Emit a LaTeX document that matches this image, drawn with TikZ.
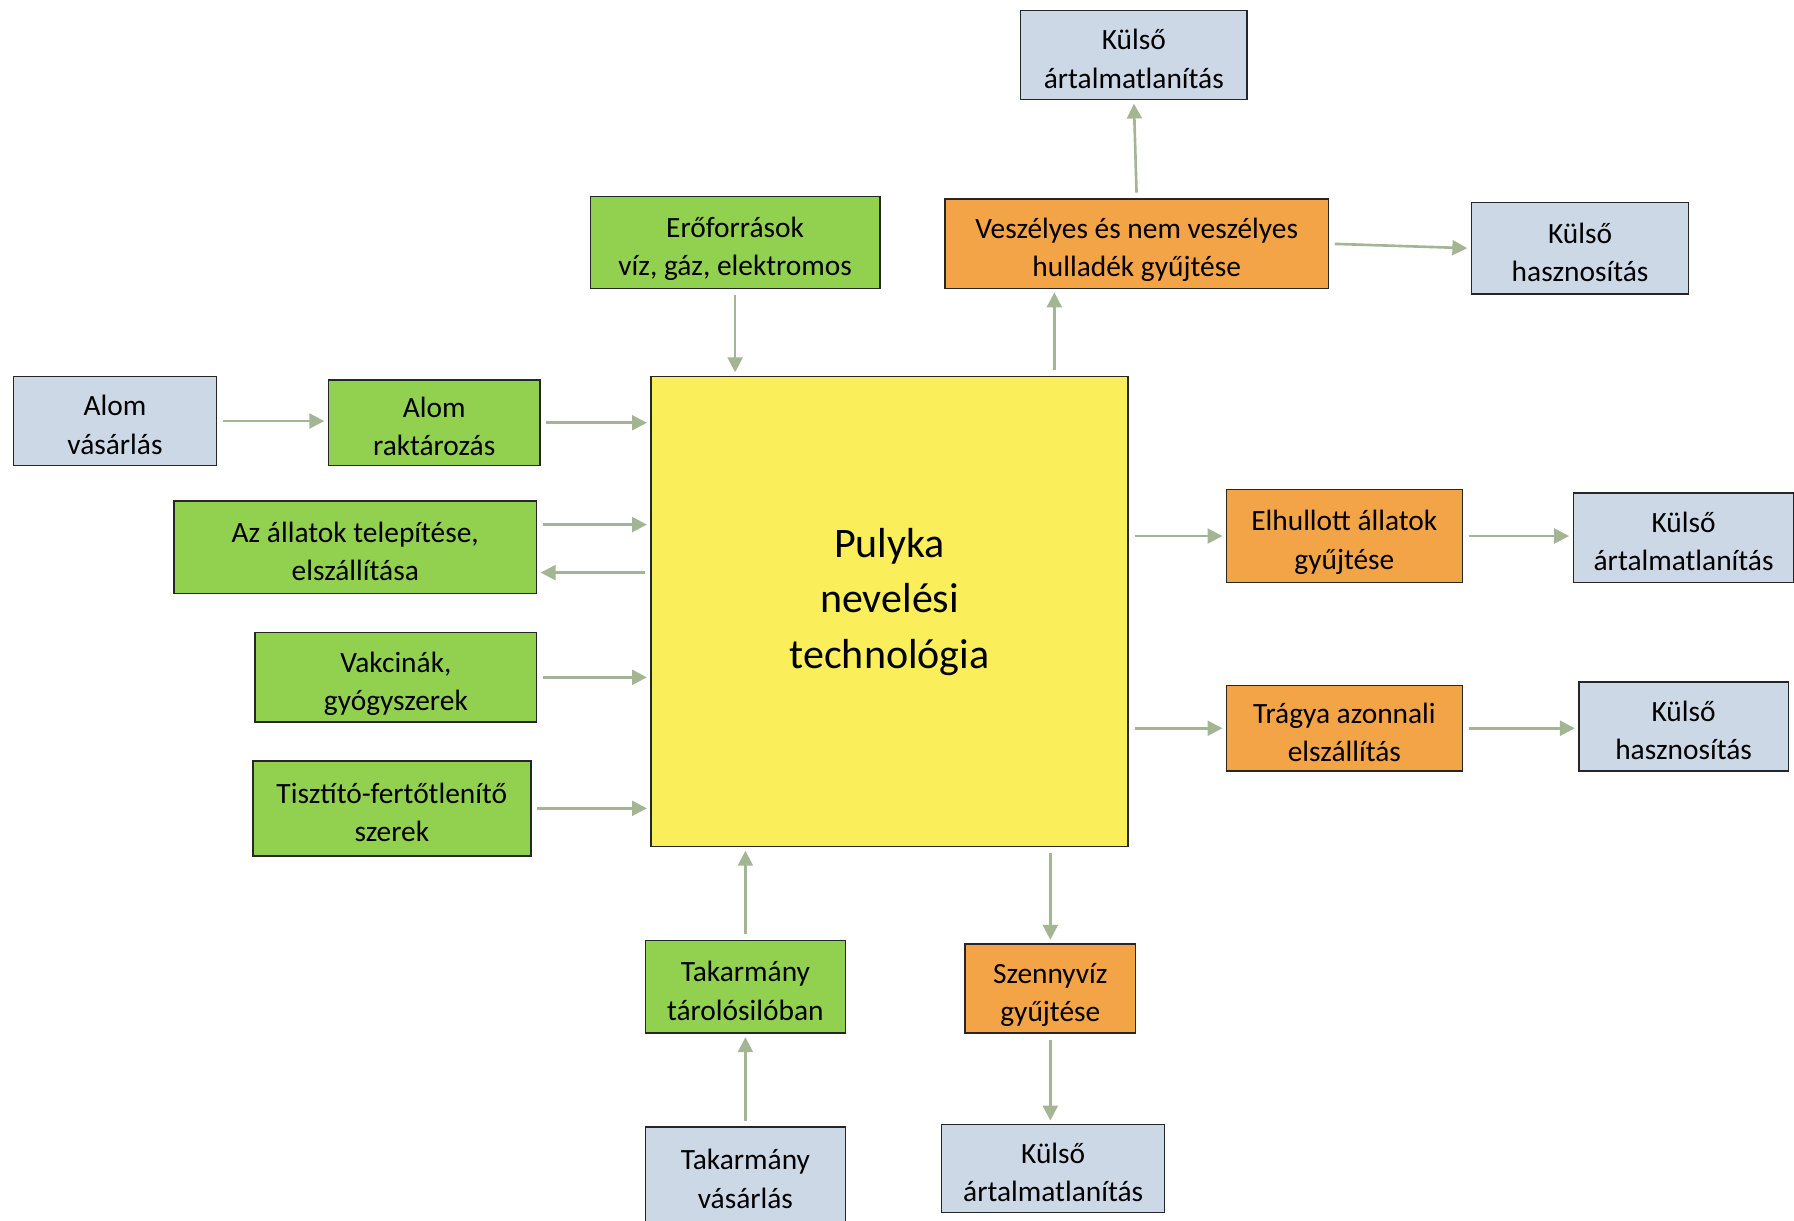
\documentclass[tikz,border=0pt]{standalone}
\usepackage{fontspec}
\setmainfont{Carlito}
\usetikzlibrary{arrows.meta}
\definecolor{extblue}{RGB}{205,216,230}
\definecolor{ingreen}{RGB}{146,208,80}
\definecolor{wasteorange}{RGB}{243,164,70}
\definecolor{mainyellow}{RGB}{250,238,90}
\definecolor{arrowc}{RGB}{163,181,147}

\begin{document}
\begin{tikzpicture}[
    x=1pt, y=-1pt,
    box/.style={draw=black!85, line width=1.2pt, align=center, inner sep=0pt,
        text height=58pt, text depth=0pt,
        font=\fontsize{25.7}{33.5}\selectfont},
    extbox/.style={box, fill=extblue},
    inbox/.style={box, fill=ingreen},
    wastebox/.style={box, fill=wasteorange},
    mainbox/.style={box, fill=mainyellow, text height=123pt, text depth=24pt,
        font=\fontsize{36.7}{48.5}\selectfont},
    flow/.style={-{Triangle[length=13pt, width=13pt]}, line width=2.3pt, draw=arrowc,
        shorten <=5pt, shorten >=3pt}
]
\useasboundingbox (0,0) rectangle (1568,1067);
% main process
\node[mainbox, minimum width=417pt, minimum height=411pt] (main) at (777.5,534.5)
    {Pulyka\\ nevelési\\ technológia};
% inputs
\node[inbox, minimum width=253pt, minimum height=80pt] (ero) at (642.5,212)
    {Erőforrások\\ víz, gáz, elektromos};
\node[extbox, minimum width=177pt, minimum height=78pt] (alomvas) at (100.5,368)
    {Alom\\ vásárlás};
\node[inbox, minimum width=185pt, minimum height=75pt] (alomrakt) at (379.5,369.5)
    {Alom\\ raktározás};
\node[inbox, minimum width=317pt, minimum height=81pt] (allat) at (310.5,478.5)
    {Az állatok telepítése,\\ elszállítása};
\node[inbox, minimum width=246pt, minimum height=78pt] (vakc) at (346,592)
    {Vakcinák,\\ gyógyszerek};
\node[inbox, minimum width=243pt, minimum height=83pt] (tiszt) at (342.5,706.5)
    {Tisztító-fertőtlenítő\\ szerek};
\node[inbox, minimum width=175pt, minimum height=81pt] (taktar) at (651.5,862.5)
    {Takarmány\\ tárolósilóban};
\node[extbox, minimum width=175pt, minimum height=84pt] (takvas) at (651.5,1027)
    {Takarmány\\ vásárlás};
% outputs
\node[wastebox, minimum width=335pt, minimum height=78pt] (veszely) at (993.5,213)
    {Veszélyes és nem veszélyes\\ hulladék gyűjtése};
\node[extbox, minimum width=198pt, minimum height=78pt] (kulsoA) at (991,48)
    {Külső\\ ártalmatlanítás};
\node[extbox, minimum width=190pt, minimum height=80pt] (haszA) at (1381,217)
    {Külső\\ hasznosítás};
\node[wastebox, minimum width=206pt, minimum height=81pt] (elhull) at (1175,468.5)
    {Elhullott állatok\\ gyűjtése};
\node[extbox, minimum width=193pt, minimum height=78pt] (kulsoB) at (1471.5,470)
    {Külső\\ ártalmatlanítás};
\node[wastebox, minimum width=206pt, minimum height=75pt] (tragya) at (1175,636.5)
    {Trágya azonnali\\ elszállítás};
\node[extbox, minimum width=183pt, minimum height=78pt] (haszB) at (1471.5,635)
    {Külső\\ hasznosítás};
\node[wastebox, minimum width=149pt, minimum height=78pt] (szenny) at (918,864)
    {Szennyvíz\\ gyűjtése};
\node[extbox, minimum width=195pt, minimum height=77pt] (kulsoC) at (920.5,1021.5)
    {Külső\\ ártalmatlanítás};
% connectors
\draw[flow] (ero.south) -- (ero.south |- main.north);
\draw[flow] (alomvas.east) -- (alomvas.east -| alomrakt.west);
\draw[flow] (alomrakt.east) -- (alomrakt.east -| main.west);
\draw[flow] ([yshift=20pt]allat.east) -- ([yshift=20pt]allat.east -| main.west);
\draw[flow] ([yshift=-22pt]allat.east -| main.west) -- ([yshift=-22pt]allat.east);
\draw[flow] (vakc.east) -- (vakc.east -| main.west);
\draw[flow] (tiszt.east) -- (tiszt.east -| main.west);
\draw[flow] (taktar.north) -- (taktar.north |- main.south);
\draw[flow] (takvas.north) -- (taktar.south);
\draw[flow] ([xshift=144pt]main.north) -- ([xshift=144pt]main.north |- veszely.south);
\draw[flow] (veszely.north) -- (kulsoA.south);
\draw[flow] (veszely.east) -- (haszA.west);
\draw[flow] (elhull.west -| main.east) -- (elhull.west);
\draw[flow] (elhull.east) -- (elhull.east -| kulsoB.west);
\draw[flow] (tragya.west -| main.east) -- (tragya.west);
\draw[flow] (tragya.east) -- (tragya.east -| haszB.west);
\draw[flow] (szenny.north |- main.south) -- (szenny.north);
\draw[flow] (szenny.south) -- (szenny.south |- kulsoC.north);
\end{tikzpicture}
\end{document}
